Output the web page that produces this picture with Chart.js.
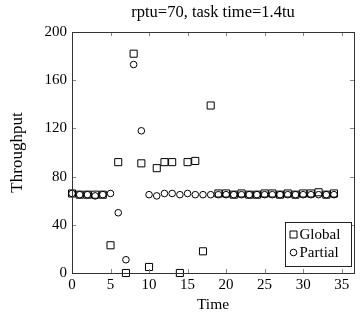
<!DOCTYPE html>
<html>
<head>
<meta charset="utf-8">
<script src="https://cdn.jsdelivr.net/npm/chart.js@4/dist/chart.umd.min.js"></script>
<style>
  html, body { margin: 0; padding: 0; background: #fff; }
  #wrap { width: 360px; height: 320px; }
</style>
</head>
<body>
<div id="wrap"><canvas id="tput"></canvas></div>
<script>
// values
const times = [0,1,2,3,4,5,6,7,8,9,10,11,12,13,14,15,16,17,18,19,20,21,22,23,24,25,26,27,28,29,30,31,32,33,34];
const globalVals = [66,65,65,65,65,23,92,0,182,91,5,87,92,92,0,92,93,18,139,66,66,65,66,65,65,66,66,65,66,65,66,66,67,65,66];
const partialVals = [66,65,65,64,65,66,50,11,173,118,65,64,66,66,65,66,65,65,65,65,65,65,65,65,65,65,65,65,65,65,65,65,65,65,65];
const xTicks = [0,5,10,15,20,25,30,35];
const yTicks = [0,40,80,120,160,200];
const titleText = 'rptu=70, task time=1.4tu';

const serif = "'Liberation Serif', 'DejaVu Serif', serif";

function toPoints(vals) {
    return times.map((t, i) => ({x: t, y: vals[i]}));
}

// title centred over the plot area (not the whole canvas)
const titlePlugin = {
    id: 'plotTitle',
    afterDraw(chart) {
        const {ctx, chartArea: a} = chart;
        ctx.save();
        ctx.font = '16.5px ' + serif;
        ctx.fillStyle = '#000';
        ctx.textAlign = 'center';
        ctx.textBaseline = 'middle';
        ctx.fillText(titleText, (a.left + a.right) / 2, 13);
        ctx.restore();
    }
};

// box around the plot with inward ticks on all four sides
const framePlugin = {
    id: 'frame',
    afterDraw(chart) {
        const {ctx, chartArea: a, scales} = chart;
        const len = 4;
        ctx.save();
        ctx.strokeStyle = '#888';
        ctx.lineWidth = 1;
        ctx.beginPath();
        xTicks.forEach(v => {
            const px = Math.round(scales.x.getPixelForValue(v)) + 0.5;
            ctx.moveTo(px, a.bottom); ctx.lineTo(px, a.bottom - len);
            ctx.moveTo(px, a.top); ctx.lineTo(px, a.top + len);
        });
        yTicks.forEach(v => {
            const py = Math.round(scales.y.getPixelForValue(v)) + 0.5;
            ctx.moveTo(a.left, py); ctx.lineTo(a.left + len, py);
            ctx.moveTo(a.right, py); ctx.lineTo(a.right - len, py);
        });
        ctx.stroke();
        ctx.strokeStyle = '#333';
        ctx.strokeRect(Math.round(a.left) + 0.5, Math.round(a.top) + 0.5,
            Math.round(a.right - a.left), Math.round(a.bottom - a.top));
        ctx.restore();
    }
};

// legend box in the lower right corner
const legendPlugin = {
    id: 'boxLegend',
    afterDraw(chart) {
        const {ctx, chartArea: a} = chart;
        const w = 66, h = 44;
        const x0 = Math.round(a.right - 3 - w) + 0.5;
        const y0 = Math.round(a.bottom - 7 - h) + 0.5;
        ctx.save();
        ctx.fillStyle = '#fff';
        ctx.fillRect(x0, y0, w, h);
        ctx.strokeStyle = '#222';
        ctx.lineWidth = 1;
        ctx.strokeRect(x0, y0, w, h);
        ctx.font = '15px ' + serif;
        ctx.textBaseline = 'middle';
        ctx.fillStyle = '#000';
        chart.data.datasets.forEach((ds, i) => {
            const cy = y0 + 12 + i * 18;
            const cx = x0 + 8;
            ctx.strokeStyle = '#000';
            ctx.beginPath();
            if (ds.pointStyle === 'rect') {
                ctx.rect(cx - 3.5, cy - 3.5, 7, 7);
            } else {
                ctx.arc(cx, cy, 3.3, 0, Math.PI * 2);
            }
            ctx.stroke();
            ctx.fillText(ds.label, cx + 6, cy + 1);
        });
        ctx.restore();
    }
};

document.addEventListener('DOMContentLoaded', function() {
    const ctx = document.getElementById('tput').getContext('2d');
    new Chart(ctx, {
        type: 'scatter',
        data: {
            datasets: [{
                label: 'Global',
                data: toPoints(globalVals),
                pointStyle: 'rect',
                pointRadius: 5,
                borderColor: '#000',
                backgroundColor: 'rgba(0,0,0,0)',
                pointBorderWidth: 1,
                clip: false
            }, {
                label: 'Partial',
                data: toPoints(partialVals),
                pointStyle: 'circle',
                pointRadius: 3.3,
                borderColor: '#000',
                backgroundColor: 'rgba(0,0,0,0)',
                pointBorderWidth: 1,
                clip: false
            }]
        },
        options: {
            responsive: true,
            maintainAspectRatio: false,
            animation: false,
            layout: { padding: { top: 32, right: 3, left: 0, bottom: 0 } },
            plugins: {
                legend: { display: false },
                tooltip: { enabled: false },
                title: { display: false }
            },
            scales: {
                x: {
                    type: 'linear',
                    min: 0,
                    max: 36.6,
                    grid: { display: false, drawTicks: false },
                    border: { display: false },
                    afterBuildTicks: s => { s.ticks = xTicks.map(v => ({value: v})); },
                    afterFit: s => { s.height = 47; },
                    ticks: {
                        color: '#000',
                        padding: 3,
                        maxRotation: 0,
                        font: { family: serif, size: 15 }
                    },
                    title: {
                        display: true,
                        text: 'Time',
                        color: '#000',
                        font: { family: serif, size: 15.5 },
                        padding: { top: 0, bottom: 6 }
                    }
                },
                y: {
                    min: 0,
                    max: 200,
                    grid: { display: false, drawTicks: false },
                    border: { display: false },
                    afterBuildTicks: s => { s.ticks = yTicks.map(v => ({value: v})); },
                    afterFit: s => { s.width = 72; },
                    ticks: {
                        color: '#000',
                        padding: 5,
                        font: { family: serif, size: 15 }
                    },
                    title: {
                        display: true,
                        text: 'Throughput',
                        color: '#000',
                        font: { family: serif, size: 17 },
                        padding: { top: 7, bottom: 0 }
                    }
                }
            }
        },
        plugins: [framePlugin, legendPlugin, titlePlugin]
    });
});
</script>
</body>
</html>
